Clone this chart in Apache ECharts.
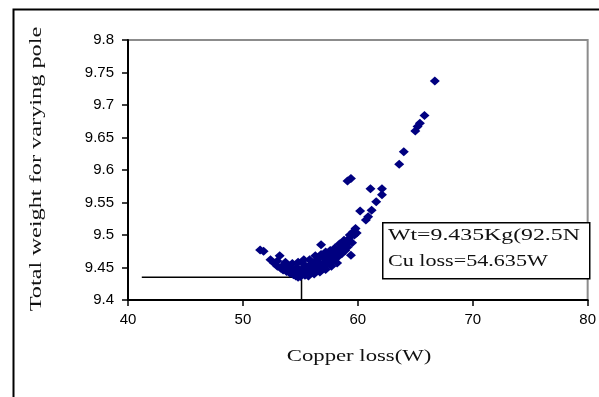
<!DOCTYPE html>
<html>
<head>
<meta charset="utf-8">
<script src="https://cdn.jsdelivr.net/npm/echarts@6/dist/echarts.min.js"></script>
<style>
  html, body { margin: 0; padding: 0; background: #fff; }
  #chart { width: 599px; height: 397px; }
</style>
</head>
<body>
<div id="chart"></div>
<script>
// copper loss (W) for each design point
const copperLoss = [
  51.5, 51.8, 52.4, 52.7, 53.0, 53.2, 53.3, 53.5, 53.6, 53.8, 53.9, 54.1, 54.2, 54.4, 54.5, 54.6,
  54.7, 54.8, 54.9, 55.0, 55.1, 55.2, 55.3, 55.4, 55.5, 55.6, 55.7, 55.8, 55.9, 56.0, 56.1, 56.2,
  56.3, 56.4, 56.5, 56.6, 56.7, 56.8, 56.9, 57.0, 57.1, 57.3, 57.4, 57.5, 57.7, 57.8, 58.0, 58.1,
  58.3, 58.4, 58.6, 58.7, 58.9, 59.0, 59.1, 59.2, 59.4, 59.4, 59.5, 59.6, 59.7, 59.9,
  53.0, 53.7, 54.3, 54.8, 55.3, 55.8, 56.3, 56.8, 57.2, 57.6, 58.0, 58.4, 58.8, 59.3, 59.8,
  55.7, 56.2, 56.7, 57.2, 57.7, 58.2,
  60.2, 60.7, 60.9, 61.2, 61.6, 61.1, 62.1, 62.1, 59.1, 59.4, 63.6, 64.0, 65.0, 65.2, 65.4, 65.8, 66.7
];
// total weight for each design point
const totalWeight = [
  9.477, 9.475, 9.462, 9.457, 9.452, 9.468, 9.449, 9.446, 9.455, 9.444, 9.451, 9.441, 9.448, 9.439, 9.445, 9.437,
  9.450, 9.435, 9.442, 9.436, 9.447, 9.440, 9.455, 9.438, 9.444, 9.450, 9.440, 9.446, 9.455, 9.442, 9.449, 9.458,
  9.445, 9.452, 9.462, 9.448, 9.456, 9.485, 9.452, 9.466, 9.458, 9.455, 9.470, 9.462, 9.458, 9.468, 9.463, 9.474,
  9.467, 9.477, 9.471, 9.481, 9.476, 9.487, 9.481, 9.494, 9.469, 9.499, 9.488, 9.505, 9.500, 9.503,
  9.460, 9.458, 9.456, 9.458, 9.462, 9.462, 9.468, 9.470, 9.474, 9.476, 9.480, 9.486, 9.492, 9.500, 9.510,
  9.437, 9.440, 9.443, 9.447, 9.452, 9.457,
  9.537, 9.523, 9.528, 9.538, 9.551, 9.571, 9.571, 9.562, 9.583, 9.587, 9.609, 9.628, 9.660, 9.667, 9.672, 9.684, 9.737
];
// optimum marker line
const optLineX = [41.2, 55.1, 55.1];
const optLineY = [9.435, 9.435, 9.4];

const annotation = ['Wt=9.435Kg(92.5N', 'Cu loss=54.635W'];

const chart = echarts.init(document.getElementById('chart'));

const points = copperLoss.map((x, i) => [x, totalWeight[i]]);
const optLine = optLineX.map((x, i) => [x, optLineY[i]]);

chart.setOption({
  animation: false,
  grid: {
    left: 128, top: 40, width: 464, height: 260,
    show: true, borderColor: '#8c8c8c', borderWidth: 2
  },
  xAxis: {
    type: 'value', min: 40, max: 80, interval: 10,
    axisLine: { lineStyle: { color: '#000', width: 2 } },
    axisTick: { show: true, length: 6, lineStyle: { color: '#000', width: 1.5 } },
    axisLabel: { color: '#000', fontFamily: 'Liberation Sans', fontSize: 15, margin: 12 },
    splitLine: { show: false }
  },
  yAxis: {
    type: 'value', min: 9.4, max: 9.8, interval: 0.05,
    axisLine: { show: true, lineStyle: { color: '#000', width: 2 } },
    axisTick: { show: true, length: 6, lineStyle: { color: '#000', width: 1.5 } },
    axisLabel: {
      color: '#000', fontFamily: 'Liberation Sans', fontSize: 15, margin: 14,
      formatter: v => String(+v.toFixed(2))
    },
    splitLine: { show: false }
  },
  series: [
    {
      type: 'line',
      data: optLine,
      symbol: 'none',
      lineStyle: { color: '#000', width: 1.5 },
      z: 1
    },
    {
      type: 'scatter',
      data: points,
      symbol: 'diamond',
      symbolSize: [10, 9],
      itemStyle: { color: '#000080', opacity: 1 },
      z: 3
    }
  ],
  graphic: [
    {
      type: 'rect', left: 11, top: 7, z: 100, silent: true,
      shape: { width: 700, height: 500 },
      style: { fill: 'none', stroke: '#000', lineWidth: 2 }
    },
    {
      type: 'text', x: 359, y: 357, scaleX: 1.42,
      style: {
        text: 'Copper loss(W)', font: '16px "Liberation Serif"',
        fill: '#111', align: 'center', verticalAlign: 'middle'
      }
    },
    {
      type: 'text', x: 37, y: 169, rotation: Math.PI / 2, scaleX: 1.52,
      style: {
        text: 'Total weight for varying pole', font: '16px "Liberation Serif"',
        fill: '#111', align: 'center', verticalAlign: 'middle'
      }
    },
    {
      type: 'rect', left: 382, top: 222, z: 50,
      shape: { width: 207, height: 56 },
      style: { fill: '#fff', stroke: '#000', lineWidth: 1.5 }
    },
    {
      type: 'text', x: 388, y: 236, scaleX: 1.4, z: 51,
      style: {
        text: annotation[0], font: '17px "Liberation Serif"',
        fill: '#111', align: 'left', verticalAlign: 'middle'
      }
    },
    {
      type: 'text', x: 388, y: 262, scaleX: 1.3, z: 51,
      style: {
        text: annotation[1], font: '17px "Liberation Serif"',
        fill: '#111', align: 'left', verticalAlign: 'middle'
      }
    }
  ]
});
</script>
</body>
</html>
